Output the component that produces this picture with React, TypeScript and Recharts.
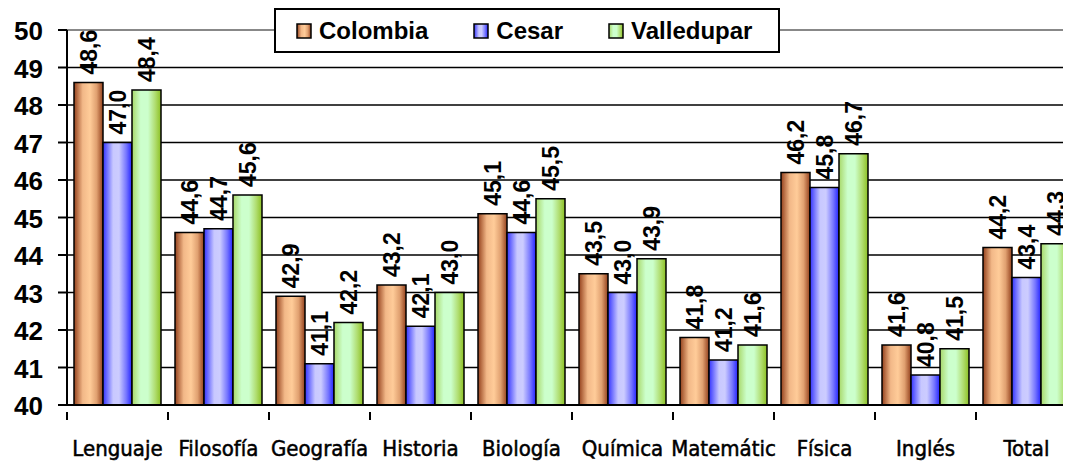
import React from 'react';
import { BarChart, Bar, XAxis, YAxis, CartesianGrid, LabelList, ReferenceLine } from 'recharts';

const categories = ['Lenguaje', 'Filosofía', 'Geografía', 'Historia', 'Biología', 'Química', 'Matemátic', 'Física', 'Inglés', 'Total'];
const colombia = [48.6, 44.6, 42.9, 43.2, 45.1, 43.5, 41.8, 46.2, 41.6, 44.2];
const cesar = [47.0, 44.7, 41.1, 42.1, 44.6, 43.0, 41.2, 45.8, 40.8, 43.4];
const valledupar = [48.4, 45.6, 42.2, 43.0, 45.5, 43.9, 41.6, 46.7, 41.5, 44.3];
const yTicks = [40, 41, 42, 43, 44, 45, 46, 47, 48, 49, 50];
const seriesNames = ['Colombia', 'Cesar', 'Valledupar'];

const data = categories.map((c, i) => ({ cat: c, Colombia: colombia[i], Cesar: cesar[i], Valledupar: valledupar[i] }));

const W = 1090;
const H = 468;
const PLOT_LEFT = 67;
const PLOT_RIGHT = 1077;
const BAND = (PLOT_RIGHT - PLOT_LEFT) / categories.length;

const fmt = (v: number) => v.toFixed(1).replace('.', ',');

const DataLabel = (props: any) => {
  const { x, y, width, value } = props;
  const cx = x + width / 2;
  const ty = y - 8;
  return (
    <text x={cx} y={ty} transform={`rotate(-90 ${cx} ${ty})`} textAnchor="start" dominantBaseline="central"
      fontFamily="'Liberation Sans', Arial, sans-serif" fontWeight="bold" fontSize={23} fill="#000">
      {fmt(value)}
    </text>
  );
};

const YTick = (props: any) => {
  const { y, payload } = props;
  return (
    <text x={43} y={y + 1} textAnchor="end" dominantBaseline="central" fontFamily="'Liberation Sans', Arial, sans-serif"
      fontWeight="bold" fontSize={26} fill="#000">{payload.value}</text>
  );
};

const XTick = (props: any) => {
  const { x, y, payload, index } = props;
  const left = x - BAND / 2;
  const right = x + BAND / 2;
  return (
    <g>
      <line x1={left} y1={y - 1} x2={left} y2={y + 7} stroke="#000" strokeWidth={2} />
      {index === categories.length - 1 && <line x1={right} y1={y - 1} x2={right} y2={y + 7} stroke="#000" strokeWidth={2} />}
      <text x={x} y={y + 43} textAnchor="middle" fontFamily="'DejaVu Sans Condensed', sans-serif"
        fontSize={22} fill="#000" stroke="#000" strokeWidth={0.5}>{payload.value}</text>
    </g>
  );
};

const gradIds: Record<string, string> = { Colombia: 'gCol', Cesar: 'gCes', Valledupar: 'gVal' };

const LegendBox = () => (
  <div style={{ position: 'absolute', left: 274, top: 8, width: 502, height: 41, border: '2px solid #000', background: '#fff', display: 'flex', alignItems: 'center',
    fontFamily: "'Liberation Sans', Arial, sans-serif", fontWeight: 'bold', fontSize: 24, color: '#000', boxSizing: 'content-box' }}>
    {seriesNames.map((n, i) => (
      <div key={n} style={{ display: 'flex', alignItems: 'center', marginLeft: i === 0 ? 20 : 45 }}>
        <svg width={16} height={16} style={{ marginRight: 7 }}>
          <rect x={1} y={1} width={14} height={14} fill={`url(#${gradIds[n]})`} stroke="#000" strokeWidth={1.5} />
        </svg>
        <span>{n}</span>
      </div>
    ))}
  </div>
);

export default function App() {
  return (
    <div style={{ position: 'relative', margin: '-8px 0 0 -8px', width: 1071, height: H, overflow: 'hidden', background: '#fff' }}>
      <div style={{ position: 'absolute', left: 6, top: 4, width: 1200, height: 600, border: '2px solid #000' }} />
      <svg width={0} height={0} style={{ position: 'absolute' }}>
        <defs>
          <linearGradient id="gCol" x1="0" y1="0" x2="1" y2="0">
            <stop offset="0" stopColor="#93401C" />
            <stop offset="0.3" stopColor="#F2B888" />
            <stop offset="0.55" stopColor="#FFCC99" />
            <stop offset="0.78" stopColor="#E0A070" />
            <stop offset="1" stopColor="#93401C" />
          </linearGradient>
          <linearGradient id="gCes" x1="0" y1="0" x2="1" y2="0">
            <stop offset="0" stopColor="#3333FF" />
            <stop offset="0.35" stopColor="#C8C8FF" />
            <stop offset="0.55" stopColor="#CCCCFF" />
            <stop offset="0.8" stopColor="#7777FF" />
            <stop offset="1" stopColor="#2222FF" />
          </linearGradient>
          <linearGradient id="gVal" x1="0" y1="0" x2="1" y2="0">
            <stop offset="0" stopColor="#A8D868" />
            <stop offset="0.3" stopColor="#CCFFCC" />
            <stop offset="0.55" stopColor="#CCFFCC" />
            <stop offset="0.8" stopColor="#B0DD70" />
            <stop offset="1" stopColor="#8CC022" />
          </linearGradient>
        </defs>
      </svg>
      <div style={{ position: 'absolute', left: 0, top: 0 }}>
        <BarChart width={W} height={H} data={data} margin={{ top: 30, right: W - PLOT_RIGHT, bottom: 0, left: 0 }}
          barGap={0} barSize={29}>
          <CartesianGrid vertical={false} stroke="#000" strokeWidth={1.5} />
          <ReferenceLine y={50} stroke="#888" strokeWidth={2} />
          <XAxis dataKey="cat" height={63} interval={0} tickLine={false} axisLine={{ stroke: '#000', strokeWidth: 2 }} tick={<XTick />} />
          <YAxis width={67} domain={[40, 50]} ticks={yTicks} interval={0} allowDataOverflow
            axisLine={{ stroke: '#000', strokeWidth: 2 }} tickLine={{ stroke: '#000', strokeWidth: 2 }} tickSize={9} tick={<YTick />} />
          {seriesNames.map((n) => (
            <Bar key={n} dataKey={n} fill={`url(#${gradIds[n]})`} stroke="#000" strokeWidth={1.5} isAnimationActive={false}>
              <LabelList dataKey={n} content={<DataLabel />} />
            </Bar>
          ))}
        </BarChart>
      </div>
      <LegendBox />
    </div>
  );
}
